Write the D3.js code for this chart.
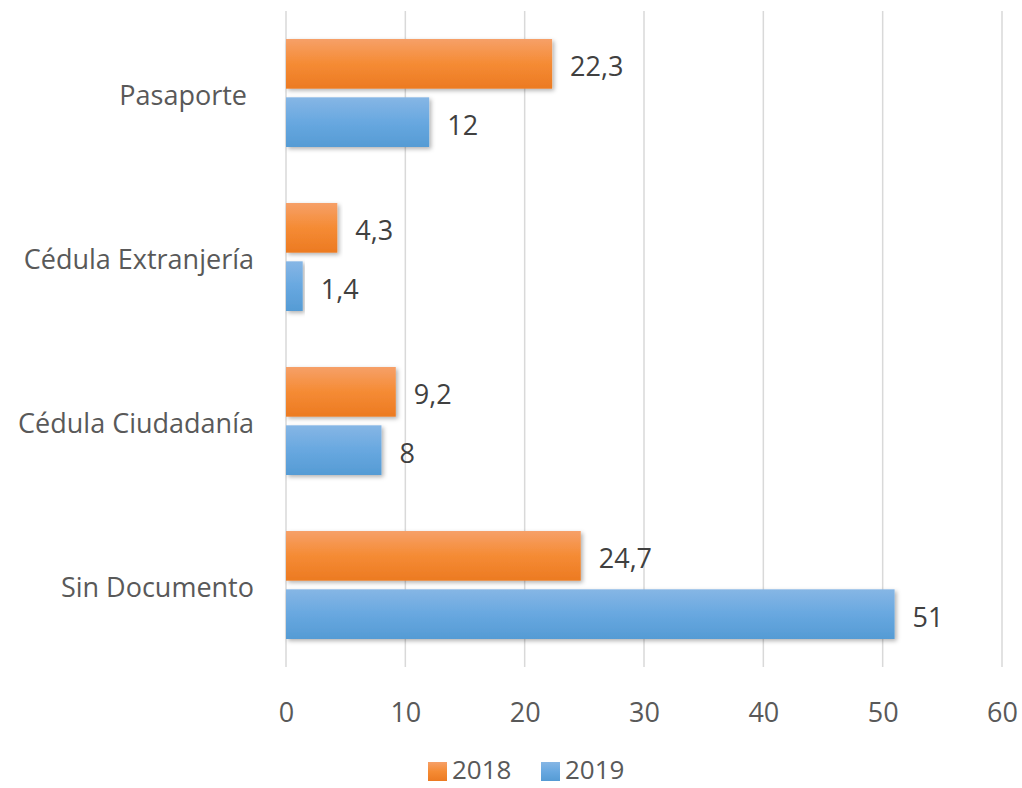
<!DOCTYPE html>
<html><head><meta charset="utf-8">
<script src="https://cdn.jsdelivr.net/npm/d3@7"></script>
<style>body{margin:0;background:#fff}svg{display:block}</style>
</head><body>
<script>
const categories = ["Pasaporte ", "Cédula Extranjería", "Cédula Ciudadanía", "Sin Documento"];
const series = ["2018", "2019"];
const values2018 = [22.3, 4.3, 9.2, 24.7];
const values2019 = [12, 1.4, 8, 51];
const labels2018 = ["22,3", "4,3", "9,2", "24,7"];
const labels2019 = ["12", "1,4", "8", "51"];
const xTicks = [0, 10, 20, 30, 40, 50, 60];

const W = 1022, H = 788;
const font = "'Open Sans', sans-serif";
const fs = 27;
const svg = d3.select("body").append("svg").attr("width", W).attr("height", H);
const defs = svg.append("defs");
function grad(id, c1, c2, c3) {
  const g = defs.append("linearGradient").attr("id", id).attr("x1", 0).attr("y1", 0).attr("x2", 0).attr("y2", 1);
  g.append("stop").attr("offset", "0%").attr("stop-color", c1);
  g.append("stop").attr("offset", "50%").attr("stop-color", c2);
  g.append("stop").attr("offset", "100%").attr("stop-color", c3);
}
grad("gOrange", "#F6A068", "#F58B34", "#EC7A22");
grad("gBlue", "#86B6E5", "#68A8E0", "#559BD4");
const f = defs.append("filter").attr("id", "shadow").attr("x", "-5%").attr("y", "-20%").attr("width", "115%").attr("height", "150%");
f.append("feDropShadow").attr("dx", 2).attr("dy", 2).attr("stdDeviation", 2).attr("flood-color", "#000").attr("flood-opacity", 0.3);

const x = d3.scaleLinear().domain([0, 60]).range([286, 1002]);
const y = d3.scaleBand().domain(categories).range([11, 667]);
const inner = d3.scaleBand().domain(series).range([y.bandwidth()/2 - 54, y.bandwidth()/2 + 54]).paddingInner(0.148);

// grid
svg.append("g").selectAll("line").data(xTicks).join("line")
  .attr("x1", d => x(d)).attr("x2", d => x(d)).attr("y1", 11).attr("y2", 667)
  .attr("stroke", "#D9D9D9").attr("stroke-width", 1.5);

// axis labels
const ax = svg.append("g").attr("transform", "translate(0,722)").call(d3.axisBottom(x).tickValues(xTicks).tickSize(0).tickFormat(d => d));
ax.select(".domain").remove();
ax.selectAll("text").attr("font-family", font).attr("font-size", fs).attr("fill", "#595959").attr("dy", 0).attr("y", 0);

const ay = svg.append("g").attr("transform", "translate(254,3)").call(d3.axisLeft(y).tickSize(0).tickPadding(0));
ay.select(".domain").remove();
ay.selectAll("text").attr("font-family", font).attr("font-size", fs).attr("fill", "#595959").style("white-space", "pre");

const rows = categories.map((c, i) => ({c, v: [values2018[i], values2019[i]], l: [labels2018[i], labels2019[i]]}));
const groups = svg.append("g").selectAll("g").data(rows).join("g").attr("transform", d => `translate(0,${y(d.c)})`);
groups.selectAll("rect").data(d => series.map((s, j) => ({s, v: d.v[j]}))).join("rect")
  .attr("x", x(0)).attr("y", d => inner(d.s)).attr("height", inner.bandwidth())
  .attr("width", d => x(d.v) - x(0))
  .attr("fill", d => d.s === "2018" ? "url(#gOrange)" : "url(#gBlue)")
  .attr("filter", "url(#shadow)");
groups.selectAll("text").data(d => series.map((s, j) => ({s, v: d.v[j], l: d.l[j]}))).join("text")
  .attr("x", d => x(d.v) + 18).attr("y", d => inner(d.s) + inner.bandwidth()/2 + 3)
  .attr("dy", "0.35em").attr("font-family", font).attr("font-size", fs).attr("fill", "#404040")
  .text(d => d.l);

// legend
const legend = svg.append("g").attr("transform", "translate(0,770)");
const lx = [428, 541];
series.forEach((s, i) => {
  legend.append("rect").attr("x", lx[i]).attr("y", -8).attr("width", 19).attr("height", 19)
    .attr("fill", i === 0 ? "url(#gOrange)" : "url(#gBlue)");
  legend.append("text").attr("x", lx[i] + 24).attr("y", 0).attr("dy", "0.35em")
    .attr("font-family", font).attr("font-size", 26).attr("fill", "#595959").text(s);
});
</script>
</body></html>
